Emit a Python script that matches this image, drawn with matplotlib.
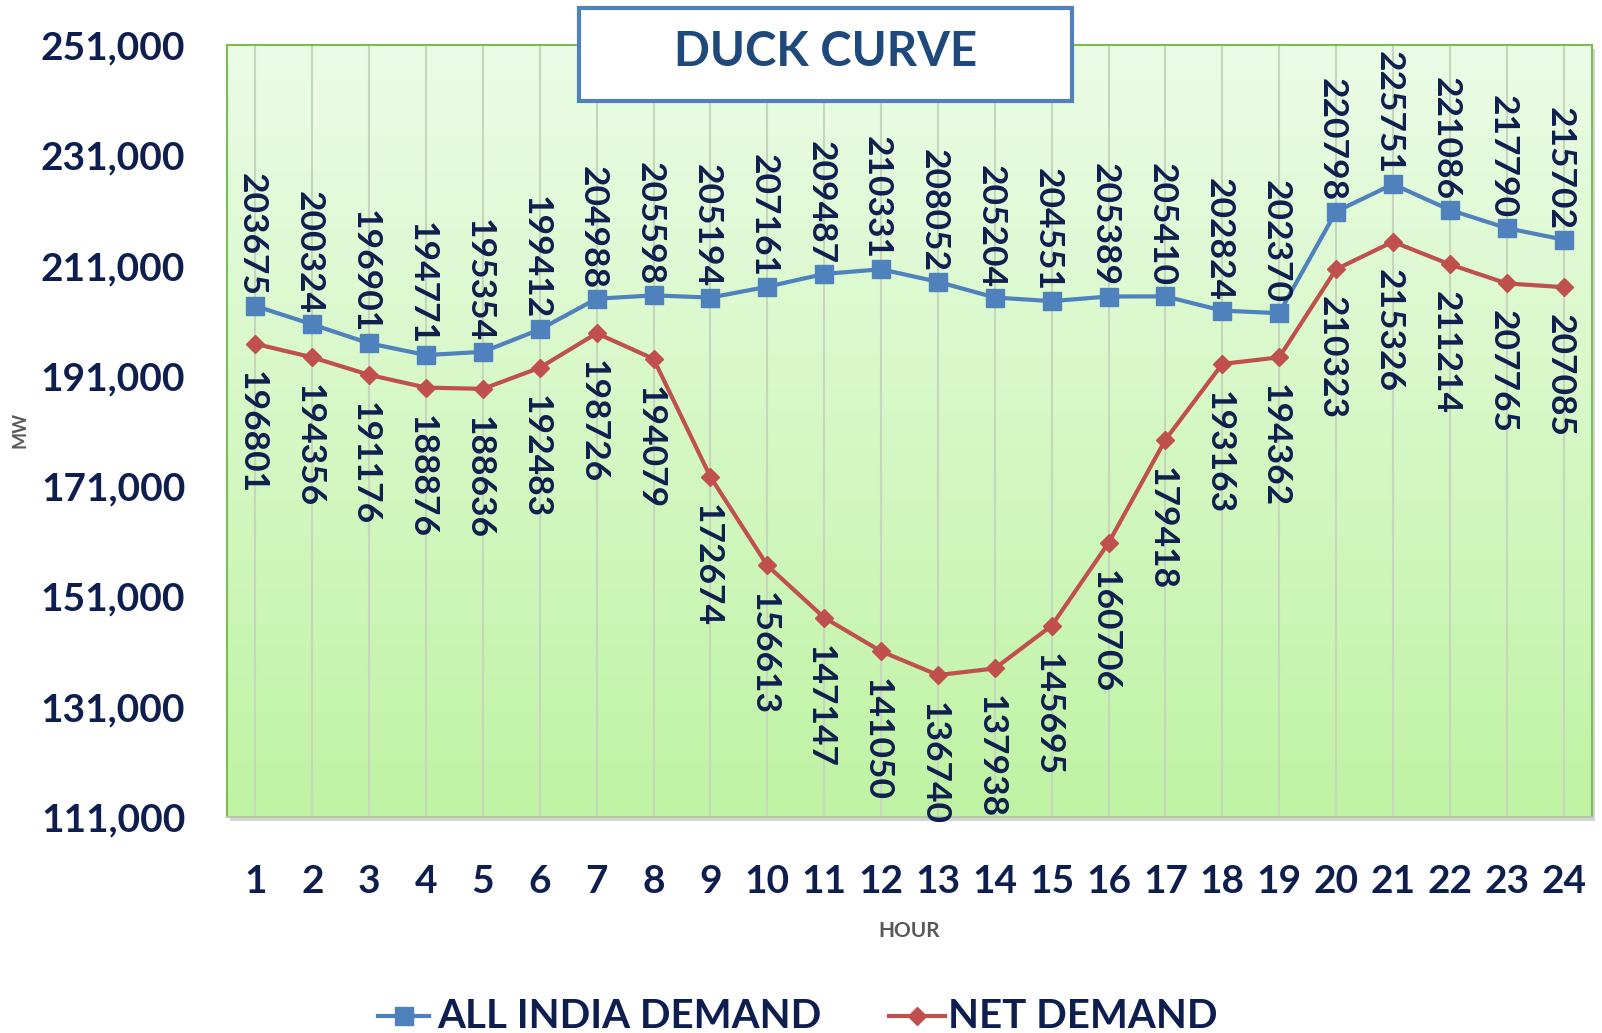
import numpy as np
import matplotlib
matplotlib.use("Agg")
import matplotlib.pyplot as plt
from matplotlib.lines import Line2D
from matplotlib.patches import Rectangle

hours = list(range(1, 25))
all_india_demand = [203675, 200324, 196901, 194771, 195354, 199412, 204988, 205598,
                    205194, 207161, 209487, 210331, 208052, 205204, 204551, 205389,
                    205410, 202824, 202370, 220798, 225751, 221086, 217790, 215702]
net_demand = [196801, 194356, 191176, 188876, 188636, 192483, 198726, 194079,
              172674, 156613, 147147, 141050, 136740, 137938, 145695, 160706,
              179418, 193163, 194362, 210323, 215326, 211214, 207765, 207085]
y_ticks = [111000, 131000, 151000, 171000, 191000, 211000, 231000, 251000]
series_names = ["ALL INDIA DEMAND", "NET DEMAND"]
title = "DUCK CURVE"

FONT = "Lato"
NAVY = "#0e1e4e"
BLUE = "#4f81bd"
RED = "#c0504d"
GRAY = "#595959"

plt.rcParams['font.family'] = [FONT, 'DejaVu Sans']

fig = plt.figure(figsize=(16.02, 10.33), dpi=100)
ax_l, ax_b, ax_r, ax_t = 227/1602, 1 - 817/1033, 1592/1602, 1 - 45/1033
ax = fig.add_axes([ax_l, ax_b, ax_r - ax_l, ax_t - ax_b])

# shadow behind plot area
shadow = Rectangle((ax_l + 3/1602, ax_b - 4/1033), ax_r - ax_l, ax_t - ax_b,
                   transform=fig.transFigure, facecolor="#b8b8b8", edgecolor="none",
                   zorder=-1, alpha=0.6)
fig.add_artist(shadow)

# gradient background
top_c = np.array(matplotlib.colors.to_rgb("#ebfce6"))
bot_c = np.array(matplotlib.colors.to_rgb("#bff3a3"))
t = np.linspace(0, 1, 256)[:, None]
grad = (top_c[None, :] * (1 - t) + bot_c[None, :] * t)[:, None, :]
ax.imshow(grad, extent=[0, 1, 0, 1], transform=ax.transAxes, aspect='auto', zorder=0)

ax.plot(hours, all_india_demand, color=BLUE, lw=3, marker='s', markersize=13,
        markeredgecolor=BLUE, zorder=3)
ax.plot(hours, net_demand, color=RED, lw=3, marker='D', markersize=9,
        markeredgecolor=RED, zorder=3)

for h, v in zip(hours, all_india_demand):
    ax.annotate(str(v), (h, v), xytext=(-4, 10), textcoords='offset pixels',
                rotation=270, ha='center', va='bottom', fontsize=25.5,
                fontweight='bold', color=NAVY, zorder=4)
for h, v in zip(hours, net_demand):
    ax.annotate(str(v), (h, v), xytext=(-4, -27), textcoords='offset pixels',
                rotation=270, ha='center', va='top', fontsize=25.5,
                fontweight='bold', color=NAVY, zorder=4)

ax.set_xlim(0.5, 24.5)
ax.set_ylim(111000, 251000)
ax.set_xticks(hours)
ax.set_xticklabels([str(h) for h in hours])
ax.set_yticks(y_ticks)
ax.set_yticklabels([f"{v:,}" for v in y_ticks])
ax.tick_params(axis='both', length=0, labelsize=28, labelcolor=NAVY)
ax.tick_params(axis='y', pad=30)
ax.tick_params(axis='x', pad=34)
for lab in ax.get_xticklabels() + ax.get_yticklabels():
    lab.set_fontweight('bold')

ax.grid(axis='x', color="#c5d6bd", lw=1.5, zorder=1)
ax.grid(axis='y', visible=False)
ax.set_axisbelow(True)
for s in ['left', 'top', 'right']:
    ax.spines[s].set_color("#7dbb55")
    ax.spines[s].set_linewidth(1.5)
ax.spines['bottom'].set_color("#b0c8a4")
ax.spines['bottom'].set_linewidth(1.5)

# axis titles
fig.text(20/1602, 1 - 430/1033, "MW", rotation=90, ha='center', va='center',
         fontsize=13, fontweight='bold', color=GRAY)
fig.text(909/1602, 1 - 931/1033, "HOUR", ha='center', va='center',
         fontsize=15, fontweight='bold', color=GRAY)

# title box
box = Rectangle((579/1602, 1 - 101/1033), (1072 - 579)/1602, 93/1033,
                transform=fig.transFigure, facecolor='white', edgecolor=BLUE,
                lw=3, zorder=5)
fig.add_artist(box)
fig.text(826/1602, 1 - 52/1033, title, ha='center', va='center', fontsize=34,
         fontweight='bold', color="#1f497d", zorder=6)

# legend
ly = 1 - 1016/1033
for (x0, x1, xm, xt), col, mk, ms, name in [
        ((378, 429, 404, 437), BLUE, 's', 13, series_names[0]),
        ((889, 945, 917, 948), RED, 'D', 9, series_names[1])]:
    fig.add_artist(Line2D([x0/1602, x1/1602], [ly, ly], transform=fig.transFigure,
                          color=col, lw=3))
    fig.add_artist(Line2D([xm/1602], [ly], transform=fig.transFigure, color=col,
                          marker=mk, markersize=ms, markeredgecolor=col, lw=0))
    fig.text(xt/1602, ly, name, ha='left', va='center', fontsize=29,
             fontweight='bold', color=NAVY)

fig.savefig("out.png", dpi=100)
